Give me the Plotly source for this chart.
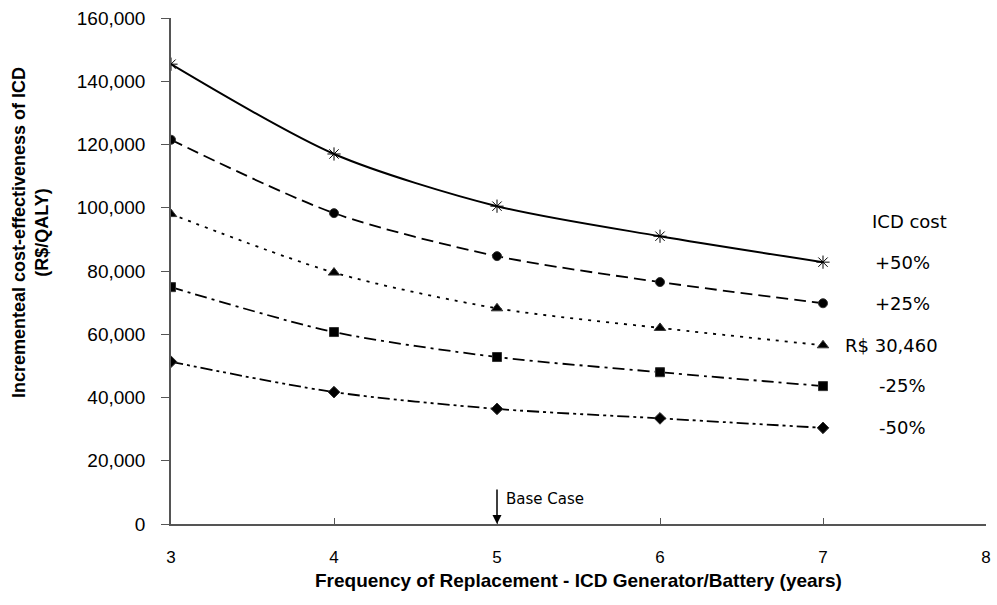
import plotly.graph_objects as go

years = [3, 4, 5, 6, 7]
plus50 = [145400, 117000, 100500, 91000, 82800]
plus25 = [121500, 98300, 84700, 76500, 69800]
base = [98000, 79500, 68200, 62000, 56500]
minus25 = [74900, 60700, 52800, 48000, 43600]
minus50 = [51300, 41700, 36400, 33400, 30400]

series_names = ["+50%", "+25%", "R$ 30,460", "-25%", "-50%"]
series_values = [plus50, plus25, base, minus25, minus50]
symbols = ["asterisk-open", "circle", "triangle-up", "square", "diamond"]
marker_sizes = [11, 9, 10, 9, 9]
dashes = ["solid", "12px,6px", "3px,6px", "12px,5px,3px,5px", "12px,4px,3px,4px,3px,4px"]
label_x = [7.49, 7.49, 7.42, 7.49, 7.49]
label_y = [82800, 69600, 56600, 43900, 30400]

fig = go.Figure()
for name, vals, sym, msize, dash in zip(series_names, series_values, symbols, marker_sizes, dashes):
    fig.add_trace(
        go.Scatter(
            x=years,
            y=vals,
            mode="lines+markers",
            name=name,
            line=dict(color="black", width=2 if dash == "solid" else 1.8, dash=dash,
                      shape="spline", smoothing=0.8),
            marker=dict(symbol=sym, size=msize, color="black",
                        line=dict(color="#333", width=1)),
            showlegend=False,
        )
    )

label_font = dict(family="DejaVu Sans, Verdana, sans-serif", size=18, color="black")
fig.add_annotation(x=7.53, y=95500, text="ICD cost", showarrow=False,
                   font=label_font, xanchor="center")
for name, lx, ly in zip(series_names, label_x, label_y):
    fig.add_annotation(x=lx, y=ly, text=name, showarrow=False,
                       font=label_font, xanchor="center")

fig.add_annotation(x=5, y=0, ax=0, ay=-36, text="", showarrow=True,
                   arrowhead=2, arrowsize=1.2, arrowwidth=1.5, arrowcolor="black")
fig.add_annotation(x=5, y=7800, text="Base Case", showarrow=False, xanchor="left",
                   xshift=7, font=dict(family="DejaVu Sans, Verdana, sans-serif", size=15, color="black"))

# axis titles
fig.add_annotation(xref="paper", yref="paper", x=0.5, y=0, yshift=-56,
                   text="<b>Frequency of Replacement - ICD Generator/Battery (years)</b>",
                   showarrow=False, xanchor="center", yanchor="middle",
                   font=dict(family="Liberation Sans, Arial, sans-serif", size=19, color="black"))
fig.add_annotation(xref="paper", yref="paper", x=0, y=0.575, xshift=-141,
                   text="<b>Incrementeal cost-effectiveness of ICD<br>(R$/QALY)</b>",
                   showarrow=False, xanchor="center", yanchor="middle", textangle=-90,
                   font=dict(family="Liberation Sans, Arial, sans-serif", size=18, color="black"))

fig.update_layout(
    width=997,
    height=605,
    margin=dict(l=171, r=11, t=18, b=81),
    paper_bgcolor="white",
    plot_bgcolor="white",
    font=dict(family="Liberation Sans, Arial, sans-serif", size=18, color="black"),
    xaxis=dict(
        range=[3, 8],
        dtick=1,
        automargin=False,
        showline=True,
        linecolor="#555",
        linewidth=1.5,
        ticks="inside",
        ticklen=6,
        tickcolor="#555",
        tickfont=dict(size=17),
        ticklabelstandoff=17,
        showgrid=False,
        zeroline=False,
    ),
    yaxis=dict(
        range=[0, 160000],
        dtick=20000,
        tickformat=",d",
        automargin=False,
        showline=True,
        linecolor="#555",
        linewidth=1.5,
        ticks="outside",
        ticklen=8,
        tickcolor="#555",
        tickfont=dict(size=19),
        ticklabelstandoff=12,
        showgrid=False,
        zeroline=False,
    ),
)

fig.write_html("out.html", config={"displayModeBar": False},
               post_script="document.body.style.margin='0';")
